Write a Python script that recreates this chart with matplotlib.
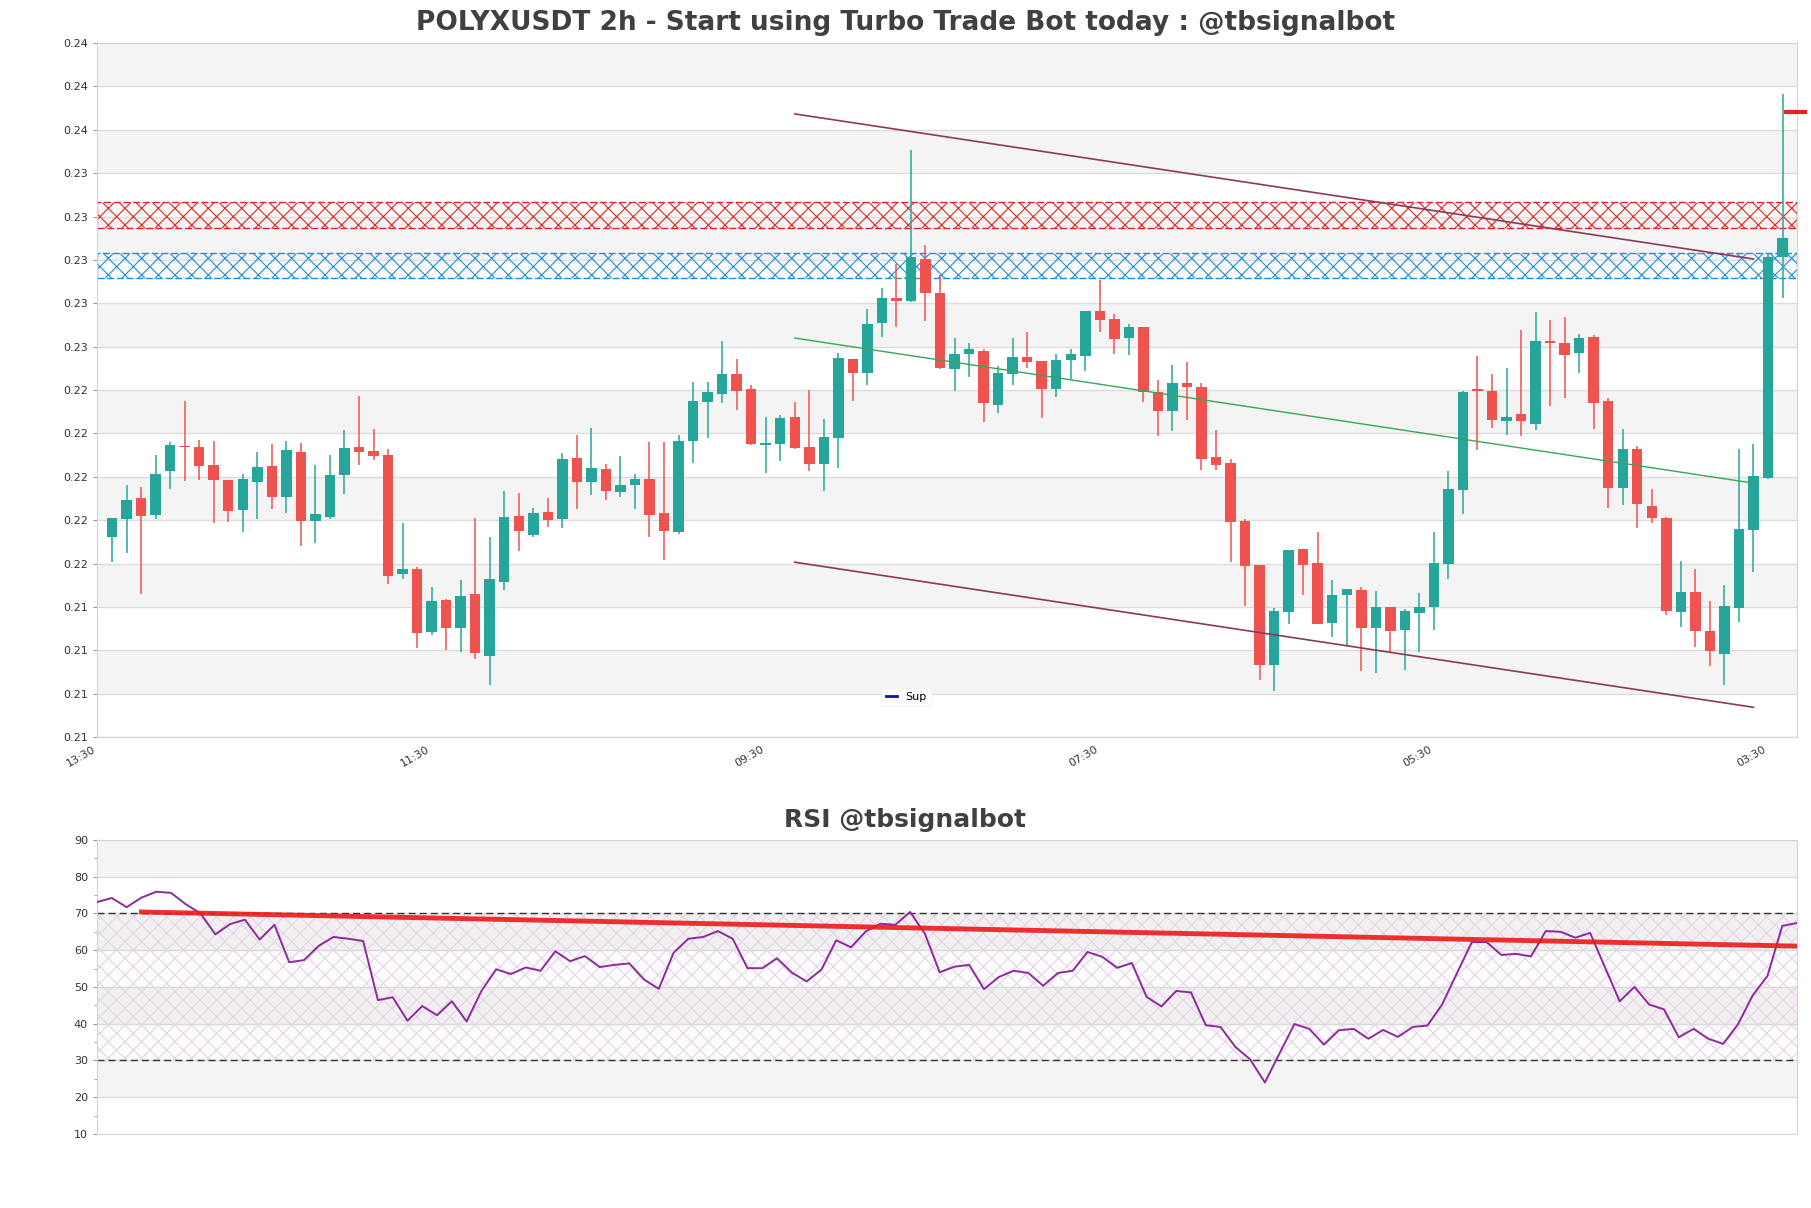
import numpy as np
import matplotlib
matplotlib.use("Agg")
import matplotlib.pyplot as plt
from matplotlib.lines import Line2D
from matplotlib.ticker import FormatStrFormatter, MultipleLocator

# 2h candles, oldest first
opens = [0.21723, 0.21804, 0.21901, 0.21824, 0.22027, 0.22141, 0.22137, 0.22054, 0.21984, 0.21847,
         0.21977, 0.22049, 0.21907, 0.22114, 0.21796, 0.21815, 0.22009, 0.22137, 0.22118, 0.22100,
         0.21552, 0.21573, 0.21284, 0.21430, 0.21302, 0.21458, 0.21173, 0.21515, 0.21818, 0.21732,
         0.21837, 0.21806, 0.22086, 0.21977, 0.22035, 0.21930, 0.21964, 0.21990, 0.21832, 0.21746,
         0.22165, 0.22345, 0.22382, 0.22472, 0.22406, 0.22148, 0.22152, 0.22275, 0.22137, 0.22058,
         0.22178, 0.22542, 0.22478, 0.22709, 0.22826, 0.22811, 0.23003, 0.22849, 0.22497, 0.22566,
         0.22582, 0.22331, 0.22474, 0.22551, 0.22532, 0.22405, 0.22538, 0.22557, 0.22763, 0.22726,
         0.22640, 0.22689, 0.22391, 0.22303, 0.22434, 0.22415, 0.22089, 0.22063, 0.21795, 0.21592,
         0.21131, 0.21376, 0.21666, 0.21602, 0.21325, 0.21455, 0.21476, 0.21302, 0.21398, 0.21293,
         0.21372, 0.21398, 0.21598, 0.21940, 0.22406, 0.22397, 0.22257, 0.22288, 0.22243, 0.22628,
         0.22618, 0.22569, 0.22643, 0.22348, 0.21949, 0.22128, 0.21864, 0.21809, 0.21376, 0.21467,
         0.21291, 0.21182, 0.21395, 0.21755, 0.21994, 0.23014]
highs = [0.21809, 0.21961, 0.21952, 0.22100, 0.22158, 0.22349, 0.22169, 0.22164, 0.21984, 0.22012,
         0.22114, 0.22151, 0.22164, 0.22155, 0.22054, 0.22100, 0.22215, 0.22372, 0.22220, 0.22128,
         0.21786, 0.21584, 0.21490, 0.21435, 0.21522, 0.21809, 0.21721, 0.21934, 0.21924, 0.21855,
         0.21901, 0.22109, 0.22192, 0.22224, 0.22058, 0.22095, 0.22014, 0.22161, 0.22161, 0.22192,
         0.22437, 0.22438, 0.22628, 0.22545, 0.22422, 0.22275, 0.22285, 0.22345, 0.22400, 0.22266,
         0.22572, 0.22542, 0.22772, 0.22872, 0.22980, 0.23508, 0.23068, 0.22929, 0.22638, 0.22618,
         0.22588, 0.22511, 0.22638, 0.22669, 0.22532, 0.22565, 0.22591, 0.22763, 0.22906, 0.22752,
         0.22706, 0.22689, 0.22445, 0.22515, 0.22531, 0.22431, 0.22215, 0.22084, 0.21804, 0.21592,
         0.21396, 0.21661, 0.21666, 0.21744, 0.21522, 0.21481, 0.21493, 0.21472, 0.21401, 0.21388,
         0.21462, 0.21744, 0.22026, 0.22395, 0.22557, 0.22472, 0.22500, 0.22675, 0.22758, 0.22722,
         0.22735, 0.22657, 0.22652, 0.22362, 0.22220, 0.22141, 0.21943, 0.21815, 0.21610, 0.21573,
         0.21427, 0.21499, 0.22128, 0.22151, 0.23026, 0.23765]
lows = [0.21607, 0.21649, 0.21459, 0.21806, 0.21944, 0.21981, 0.21986, 0.21787, 0.21792, 0.21746,
        0.21806, 0.21852, 0.21833, 0.21681, 0.21695, 0.21806, 0.21920, 0.22055, 0.22078, 0.21506,
        0.21527, 0.21210, 0.21270, 0.21201, 0.21191, 0.21159, 0.21039, 0.21478, 0.21656, 0.21723,
        0.21769, 0.21764, 0.21852, 0.21917, 0.21893, 0.21907, 0.21852, 0.21724, 0.21618, 0.21736,
        0.22065, 0.22177, 0.22340, 0.22306, 0.22146, 0.22017, 0.22074, 0.22128, 0.22027, 0.21935,
        0.22040, 0.22349, 0.22423, 0.22645, 0.22691, 0.22805, 0.22718, 0.22498, 0.22395, 0.22460,
        0.22252, 0.22295, 0.22422, 0.22502, 0.22271, 0.22368, 0.22449, 0.22488, 0.22668, 0.22565,
        0.22562, 0.22345, 0.22188, 0.22211, 0.22262, 0.22030, 0.22030, 0.21607, 0.21404, 0.21061,
        0.21011, 0.21319, 0.21455, 0.21319, 0.21261, 0.21222, 0.21105, 0.21094, 0.21188, 0.21108,
        0.21191, 0.21293, 0.21529, 0.21829, 0.22124, 0.22226, 0.22192, 0.22188, 0.22215, 0.22326,
        0.22363, 0.22478, 0.22218, 0.21857, 0.21870, 0.21764, 0.21787, 0.21362, 0.21307, 0.21215,
        0.21127, 0.21041, 0.21330, 0.21561, 0.21989, 0.22823]
closes = [0.21809, 0.21892, 0.21820, 0.22012, 0.22146, 0.22138, 0.22051, 0.21986, 0.21843, 0.21989,
          0.22044, 0.21907, 0.22123, 0.21796, 0.21827, 0.22007, 0.22132, 0.22115, 0.22097, 0.21542,
          0.21573, 0.21279, 0.21425, 0.21302, 0.21449, 0.21187, 0.21527, 0.21813, 0.21750, 0.21832,
          0.21801, 0.22081, 0.21977, 0.22040, 0.21935, 0.21964, 0.21989, 0.21824, 0.21750, 0.22164,
          0.22348, 0.22389, 0.22472, 0.22395, 0.22151, 0.22155, 0.22271, 0.22132, 0.22058, 0.22183,
          0.22546, 0.22478, 0.22703, 0.22823, 0.22811, 0.23012, 0.22848, 0.22502, 0.22565, 0.22588,
          0.22342, 0.22477, 0.22551, 0.22529, 0.22405, 0.22537, 0.22565, 0.22763, 0.22725, 0.22634,
          0.22689, 0.22392, 0.22303, 0.22431, 0.22415, 0.22084, 0.22055, 0.21792, 0.21589, 0.21131,
          0.21379, 0.21661, 0.21593, 0.21319, 0.21453, 0.21481, 0.21302, 0.21398, 0.21288, 0.21379,
          0.21401, 0.21601, 0.21943, 0.22389, 0.22395, 0.22262, 0.22277, 0.22257, 0.22625, 0.22615,
          0.22560, 0.22638, 0.22340, 0.21946, 0.22128, 0.21875, 0.21810, 0.21381, 0.21467, 0.21288,
          0.21196, 0.21402, 0.21758, 0.22003, 0.23011, 0.23100]

rsi = [73.1, 74.2, 71.7, 74.3, 75.9, 75.6, 72.5, 70.0, 64.3, 67.1,
       68.3, 62.9, 66.9, 56.7, 57.3, 61.2, 63.6, 63.1, 62.5, 46.4,
       47.2, 40.8, 44.8, 42.3, 46.1, 40.6, 48.9, 54.8, 53.5, 55.3,
       54.4, 59.7, 57.0, 58.4, 55.4, 56.0, 56.4, 52.0, 49.5, 59.3,
       63.1, 63.6, 65.2, 63.1, 55.1, 55.1, 57.8, 53.9, 51.5, 54.7,
       62.7, 60.8, 65.1, 67.2, 66.9, 70.4, 64.5, 54.0, 55.5, 56.0,
       49.4, 52.7, 54.4, 53.8, 50.3, 53.8, 54.4, 59.5, 58.2, 55.2,
       56.5, 47.3, 44.7, 48.9, 48.5, 39.6, 39.1, 33.7, 30.3, 24.0,
       32.0, 39.9, 38.6, 34.3, 38.2, 38.6, 35.9, 38.3, 36.4, 39.1,
       39.5, 45.3, 53.8, 62.2, 62.2, 58.7, 59.0, 58.3, 65.2, 65.0,
       63.4, 64.7, 55.4, 46.1, 50.0, 45.2, 43.9, 36.3, 38.6, 35.9,
       34.5, 39.8, 47.7, 53.0, 66.6, 67.4]

tick_pos = [-1, 22, 45, 68, 91, 114]
tick_labels = ["13:30", "11:30", "09:30", "07:30", "05:30", "03:30"]

res_zone = [0.23145, 0.23265]
sup_zone = [0.22918, 0.23034]
chan_x = [47, 113]
chan_upper = [0.23673, 0.23004]
chan_lower = [0.21606, 0.20937]
target_x = [115.1, 116.7]
target_price = 0.2368
rsi_trend_x = [3, 115]
rsi_trend_y = [70.4, 61.1]

GREEN = "#26a69a"
RED = "#ef5350"
BAND = "#f4f4f4"
GRID = "#dcdcdc"
TXT = "#404040"

plt.rcParams["hatch.linewidth"] = 0.8

fig = plt.figure(figsize=(18.11, 12.08), dpi=100)
ax = fig.add_axes([0.0536, 0.3899, 0.9387, 0.5745])
ax2 = fig.add_axes([0.0536, 0.0613, 0.9387, 0.2434])

# ---- price panel ----
ymin, ymax, step = 0.208, 0.240, 0.002
for k in range(16):
    if k % 2 == 1:
        ax.axhspan(ymin + k * step, ymin + (k + 1) * step, color=BAND, lw=0, zorder=0)
ax.set_yticks(np.linspace(ymin, ymax, 17))
ax.yaxis.set_major_formatter(FormatStrFormatter("%.2f"))
ax.yaxis.grid(True, color=GRID, lw=1, zorder=1)
ax.set_axisbelow(True)

ax.axhspan(res_zone[0], res_zone[1], facecolor=(1, 0.88, 0.88, 0.12), edgecolor="#e02525",
           hatch="xx", ls=(0, (5, 2)), lw=1, zorder=2)
ax.axhspan(sup_zone[0], sup_zone[1], facecolor=(0.88, 0.94, 1, 0.12), edgecolor="#1e8fd6",
           hatch="xx", ls=(0, (5, 2)), lw=1, zorder=2)

o = np.array(opens); h = np.array(highs); l = np.array(lows); c = np.array(closes)
x = np.arange(len(o))
cols = np.where(c >= o, GREEN, RED)
ax.vlines(x, l, h, colors=cols, lw=1.1, zorder=3)
ax.bar(x, np.maximum(np.abs(c - o), 0.00004), bottom=np.minimum(o, c), width=0.72,
       color=cols, zorder=4)

ax.plot(chan_x, chan_upper, color="#8a3a58", lw=1.2, zorder=5)
ax.plot(chan_x, chan_lower, color="#8a3a58", lw=1.2, zorder=5)
ax.plot(chan_x, [(a + b) / 2 for a, b in zip(chan_upper, chan_lower)], color="#3aa55a", lw=1.0, zorder=5)
ax.plot(target_x, [target_price, target_price], color="#e62222", lw=3, clip_on=False,
        solid_capstyle="butt", zorder=6)

ax.set_xlim(-1.03, 116.0)
ax.set_ylim(ymin, ymax)
ax.set_xticks(tick_pos)
ax.set_xticklabels(tick_labels, rotation=30, ha="right")
ax.tick_params(axis="both", labelsize=8, colors="#999999", labelcolor="#333333", length=3)
ax.tick_params(axis="x", length=0, pad=5)
for s in ax.spines.values():
    s.set_color("#d4d4d4")

sup_handle = Line2D([], [], color="#1010a8", lw=2, label="Sup")
leg = ax.legend(handles=[sup_handle], loc="lower center", bbox_to_anchor=(0.476, 0.036),
                fontsize=8, frameon=True, framealpha=1, handlelength=1.0, borderpad=0.4)
leg.get_frame().set_edgecolor("#f4f4f4")

fig.text(0.5, 0.981, "POLYXUSDT 2h - Start using Turbo Trade Bot today : @tbsignalbot",
         ha="center", va="center", fontsize=19, fontweight="bold", color=TXT)

# ---- RSI panel ----
for lo in [20, 40, 60, 80]:
    ax2.axhspan(lo, lo + 10, color=BAND, lw=0, zorder=0)
ax2.axhspan(30, 70, facecolor=(0.6, 0.3, 0.6, 0.02), edgecolor="#e2d6e2", hatch="xx", lw=0, zorder=1)
ax2.set_yticks(range(10, 91, 10))
ax2.yaxis.set_minor_locator(MultipleLocator(5))
ax2.yaxis.grid(True, color=GRID, lw=1)
ax2.set_axisbelow(True)
ax2.axhline(70, color="#333333", ls=(0, (5, 3)), lw=1, zorder=2)
ax2.axhline(30, color="#333333", ls=(0, (5, 3)), lw=1, zorder=2)
ax2.plot(np.arange(len(rsi)), rsi, color="#8e2a9c", lw=1.4, zorder=3)
ax2.plot(rsi_trend_x, rsi_trend_y, color="#ee1a1a", lw=3.5, alpha=0.9, zorder=4)
ax2.set_xlim(0, len(rsi) - 1)
ax2.set_ylim(10, 90)
ax2.set_xticks([])
ax2.tick_params(axis="y", which="both", labelsize=8, colors="#999999", labelcolor="#333333")
ax2.tick_params(axis="y", which="major", length=3)
ax2.tick_params(axis="y", which="minor", length=2)
for s in ax2.spines.values():
    s.set_color("#d4d4d4")

fig.text(0.5, 0.321, "RSI @tbsignalbot", ha="center", va="center", fontsize=18,
         fontweight="bold", color=TXT)

fig.savefig("out.png", dpi=100)
